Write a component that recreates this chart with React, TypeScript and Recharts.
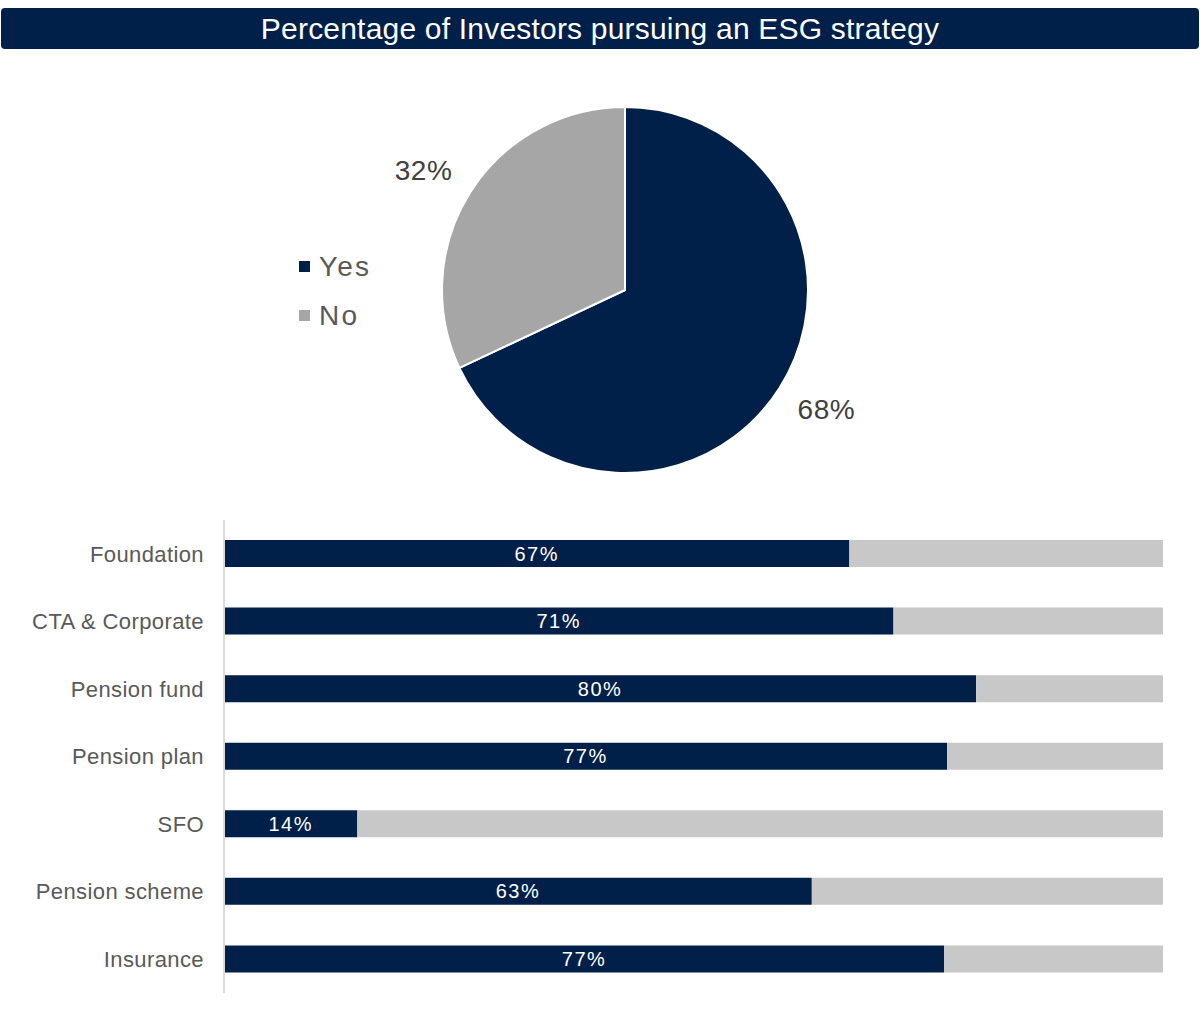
import React from 'react';
import { PieChart, Pie, Cell, Legend, BarChart, Bar, XAxis, YAxis, LabelList } from 'recharts';

const pieNames = ['Yes', 'No'];
const pieValues = [68, 32];
const pieColors = ['#00204a', '#a6a6a6'];

const categories = ['Foundation', 'CTA & Corporate', 'Pension fund', 'Pension plan', 'SFO', 'Pension scheme', 'Insurance'];
const yesValues = [66.6, 71.3, 80.1, 77.0, 14.2, 62.6, 76.7];

const pieData = pieNames.map((n, i) => ({ name: n, value: pieValues[i] }));
const barData = categories.map((c, i) => ({ name: c, yes: yesValues[i], rest: 100 - yesValues[i] }));

const FONT = '"Liberation Sans", Arial, sans-serif';
const RAD = Math.PI / 180;
const LEGEND_W = 120;

const renderPieLabel = (props: any) => {
  const { cx, cy, midAngle, value } = props;
  const r = 234;
  const a = midAngle + 1.8;
  const x = cx + r * Math.cos(-a * RAD);
  const y = cy + r * Math.sin(-a * RAD);
  return (
    <text x={x} y={y} fill="#404040" fontSize={28} letterSpacing={0.6} fontFamily={FONT} textAnchor="middle" dominantBaseline="central">
      {value}%
    </text>
  );
};

const LegendContent = () => (
  <div style={{ fontFamily: FONT }}>
    {pieNames.map((n, i) => (
      <div key={n} style={{ display: 'flex', alignItems: 'center', height: 49 }}>
        <div style={{ width: 11, height: 11, background: pieColors[i], marginRight: 9 }} />
        <span style={{ fontSize: 28, letterSpacing: 2.2, color: '#595959' }}>{n}</span>
      </div>
    ))}
  </div>
);

export default function App() {
  return (
    <div style={{ position: 'absolute', left: 0, top: 0, width: 1200, height: 1022, background: '#fff', fontFamily: FONT }}>
      <div
        style={{
          position: 'absolute', left: 1, top: 8, width: 1198, height: 41, background: '#00204a',
          borderRadius: 4, color: '#fff', fontSize: 30, letterSpacing: 0.2, lineHeight: '42px', textAlign: 'center', fontFamily: FONT,
        }}
      >
        Percentage of Investors pursuing an ESG strategy
      </div>
      <div style={{ position: 'absolute', left: 0, top: 0 }}>
        <PieChart width={1200} height={500} margin={{ top: 0, right: 0, bottom: 0, left: 0 }}>
          <Pie
            data={pieData}
            dataKey="value"
            nameKey="name"
            cx={625 - LEGEND_W}
            cy={290}
            outerRadius={183}
            startAngle={90}
            endAngle={-270}
            stroke="#fff"
            strokeWidth={2}
            label={renderPieLabel}
            labelLine={false}
            isAnimationActive={false}
          >
            {pieData.map((d, i) => (
              <Cell key={d.name} fill={pieColors[i]} />
            ))}
          </Pie>
          <Legend
            content={<LegendContent />}
            layout="vertical"
            verticalAlign="top"
            align="left"
            width={LEGEND_W}
            wrapperStyle={{ position: 'absolute', left: 299, top: 242, width: LEGEND_W }}
          />
        </PieChart>
      </div>
      <div style={{ position: 'absolute', left: 0, top: 500 }}>
        <BarChart
          width={1200}
          height={510}
          data={barData}
          layout="vertical"
          margin={{ top: 20, right: 37, bottom: 17, left: 0 }}
          barSize={27}
        >
          <XAxis type="number" domain={[0, 100]} hide />
          <YAxis
            type="category"
            dataKey="name"
            width={224}
            axisLine={{ stroke: '#d9d9d9', strokeWidth: 2 }}
            tickLine={false}
            tickSize={0}
            tickMargin={20}
            tick={{ fill: '#595959', fontSize: 22, letterSpacing: 0.4, fontFamily: FONT }}
          />
          <Bar dataKey="yes" stackId="a" fill="#00204a" isAnimationActive={false}>
            <LabelList
              dataKey="yes"
              position="center"
              fill="#fff"
              fontSize={20}
              letterSpacing={1.5}
              fontFamily={FONT}
              formatter={(v: any) => `${Math.round(Number(v))}%`}
            />
          </Bar>
          <Bar dataKey="rest" stackId="a" fill="#c8c8c8" isAnimationActive={false} />
        </BarChart>
      </div>
    </div>
  );
}
